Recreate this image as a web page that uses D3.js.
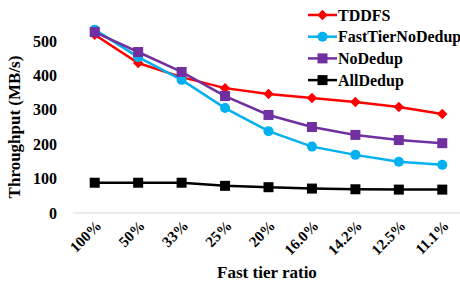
<!DOCTYPE html>
<html>
<head>
<meta charset="utf-8">
<script src="https://cdn.jsdelivr.net/npm/d3@7"></script>
<style>
  body { margin: 0; background: #fff; }
  text { font-family: "Liberation Serif", "Times New Roman", serif; font-weight: bold; fill: #000; }
</style>
</head>
<body>
<div id="chart"></div>
<script>
// tick labels along the x axis
const ratios = ['100%', '50%', '33%', '25%', '20%', '16.0%', '14.2%', '12.5%', '11.1%'];
const yTicks = [0, 100, 200, 300, 400, 500];

// throughput values (MB/s)
const tddfs = [518, 436, 395, 363, 346, 334, 323, 308, 288];
const fastTierNoDedup = [533, 453, 387, 305, 238, 193, 169, 149, 140];
const noDedup = [526, 468, 410, 340, 285, 250, 227, 212, 203];
const allDedup = [88, 88, 88, 79, 75, 71, 69, 68, 68];

const seriesNames = ['TDDFS', 'FastTierNoDedup', 'NoDedup', 'AllDedup'];
const seriesValues = [tddfs, fastTierNoDedup, noDedup, allDedup];
const seriesColors = ['#ff0000', '#00b0f0', '#7030a0', '#000000'];
const seriesMarkers = ['diamond', 'circle', 'square', 'square'];

const width = 460, height = 287;
const margin = {top: 0, right: -4, bottom: 74, left: 73};

const svg = d3.select('#chart').append('svg')
    .attr('width', width)
    .attr('height', height);

const x = d3.scaleBand()
    .domain(ratios)
    .range([margin.left, width - margin.right]);

const y = d3.scaleLinear()
    .domain([0, 500])
    .range([213, 41]);

// baseline
svg.append('line')
    .attr('x1', margin.left).attr('x2', width)
    .attr('y1', y(0)).attr('y2', y(0))
    .attr('stroke', '#d9d9d9')
    .attr('stroke-width', 1);

// y tick labels
svg.append('g').selectAll('text')
    .data(yTicks)
  .enter().append('text')
    .attr('x', 57)
    .attr('y', d => y(d))
    .attr('dy', '0.35em')
    .attr('text-anchor', 'end')
    .style('font-size', '16px')
    .text(d => d);

// x tick labels, rotated
svg.append('g').selectAll('text')
    .data(ratios)
  .enter().append('text')
    .attr('transform', d => `translate(${x(d) + x.bandwidth() / 2 + 4},${y(0) + 10}) rotate(-45)`)
    .attr('text-anchor', 'end')
    .attr('dy', '0.35em')
    .style('font-size', '15px')
    .text(d => d);

// axis titles
svg.append('text')
    .attr('x', 267)
    .attr('y', 278)
    .attr('text-anchor', 'middle')
    .style('font-size', '17px')
    .text('Fast tier ratio');

svg.append('text')
    .attr('transform', `translate(20,${y(250)}) rotate(-90)`)
    .attr('text-anchor', 'middle')
    .style('font-size', '17px')
    .text('Throughput (MB/s)');

const line = d3.line()
    .x((d, i) => x(ratios[i]) + x.bandwidth() / 2)
    .y(d => y(d));

function marker(g, type, color, cx, cy) {
  if (type === 'circle') {
    g.append('circle').attr('cx', cx).attr('cy', cy).attr('r', 5).attr('fill', color);
  } else if (type === 'square') {
    g.append('rect').attr('x', cx - 5).attr('y', cy - 5).attr('width', 10).attr('height', 10).attr('fill', color);
  } else {
    g.append('path')
        .attr('d', d3.symbol().type(d3.symbolDiamond2).size(70)())
        .attr('transform', `translate(${cx},${cy})`)
        .attr('fill', color);
  }
}

seriesValues.forEach((vals, k) => {
  const g = svg.append('g');
  g.append('path')
      .attr('d', line(vals))
      .attr('fill', 'none')
      .attr('stroke', seriesColors[k])
      .attr('stroke-width', 2.5);
  vals.forEach((v, i) => marker(g, seriesMarkers[k], seriesColors[k], x(ratios[i]) + x.bandwidth() / 2, y(v)));
});

// legend
const legend = svg.append('g');
seriesNames.forEach((name, k) => {
  const ly = 15 + k * 21.7;
  legend.append('line')
      .attr('x1', 308).attr('x2', 337)
      .attr('y1', ly).attr('y2', ly)
      .attr('stroke', seriesColors[k])
      .attr('stroke-width', 2.5);
  marker(legend, seriesMarkers[k], seriesColors[k], 322.5, ly);
  legend.append('text')
      .attr('x', 338)
      .attr('y', ly)
      .attr('dy', '0.35em')
      .style('font-size', '16px')
      .text(name);
});
</script>
</body>
</html>
